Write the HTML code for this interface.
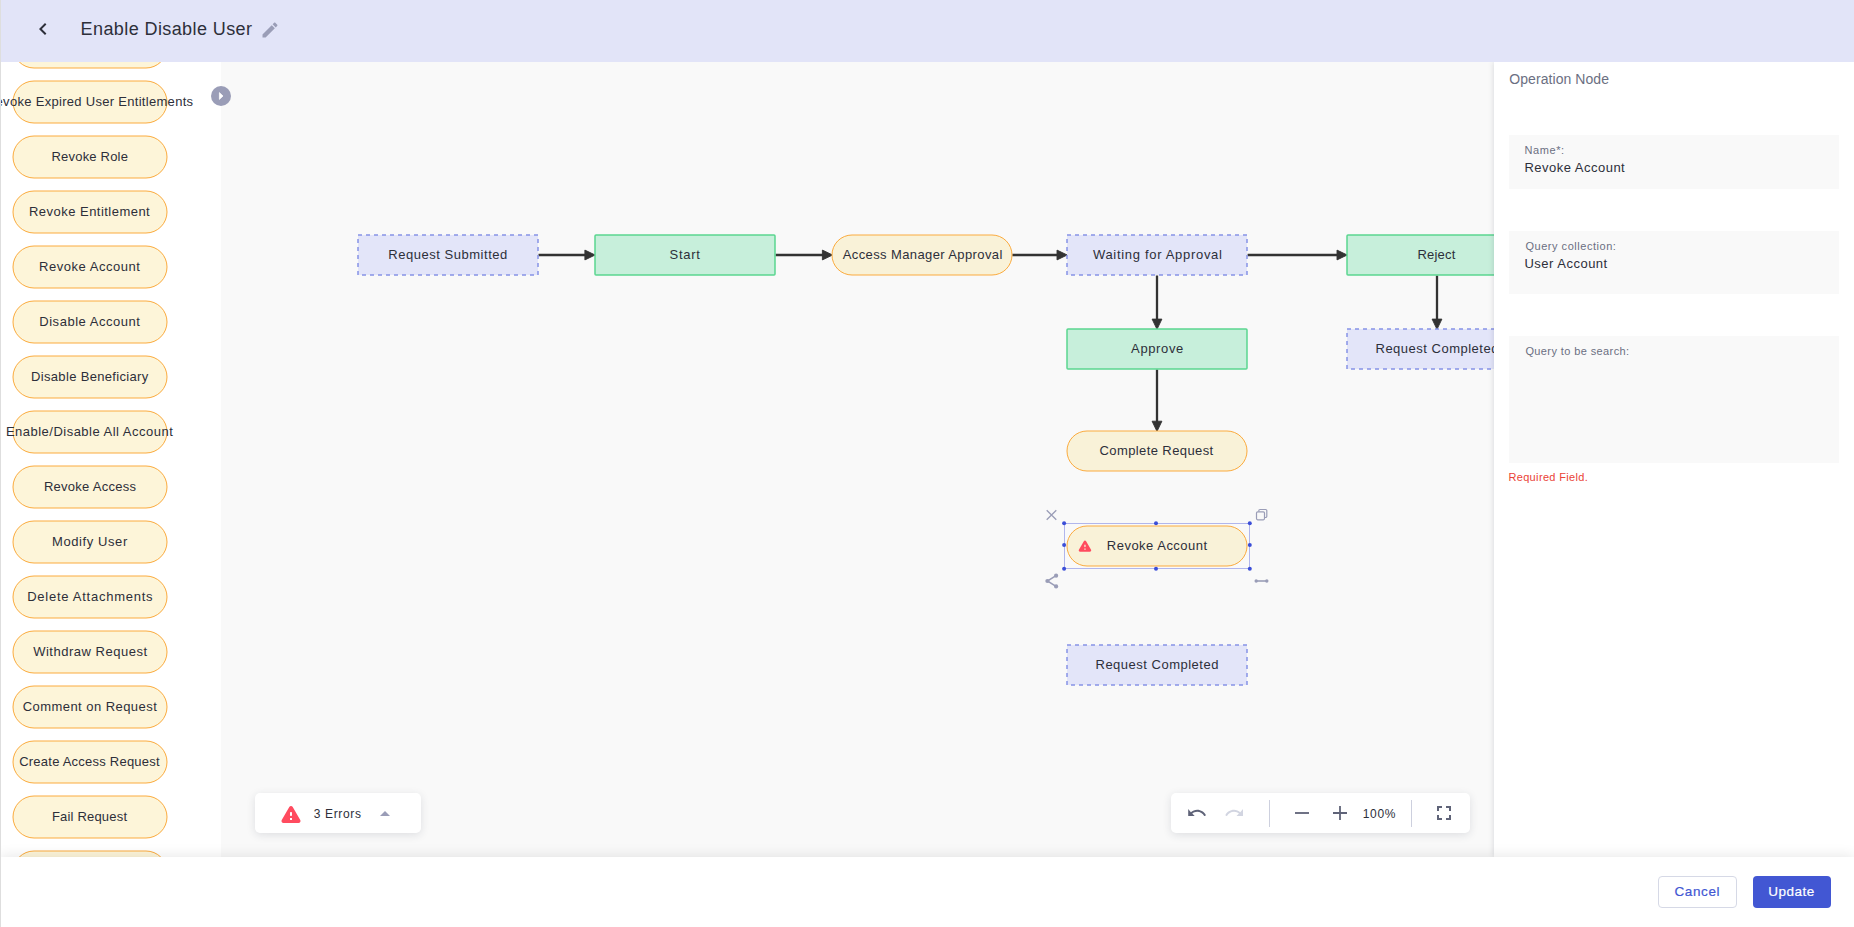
<!DOCTYPE html>
<html lang="en">
<head>
<meta charset="utf-8">
<title>Enable Disable User</title>
<style>

html,body{margin:0;padding:0}
body{width:1854px;height:927px;overflow:hidden;position:relative;background:#fff;font-family:'Liberation Sans', sans-serif;color:#2d2f3a}
*{box-sizing:border-box}
#edge{position:absolute;left:0;top:0;width:1px;height:927px;background:#dedede;z-index:20}
#header{position:absolute;left:0;top:0;width:1854px;height:62px;background:#e2e4f8;z-index:10}
#sidebar{position:absolute;left:0;top:62px;width:221px;height:795px;background:#fff;overflow:hidden;z-index:3}
#sidebar svg{position:absolute;left:0;top:0}
#canvas{position:absolute;left:221px;top:62px;width:1273px;height:795px;background:#f9f9f9;overflow:hidden;z-index:1}
#canvas>svg{position:absolute;left:0;top:0}
#toggle{position:absolute;left:211px;top:86px;width:20px;height:20px;border-radius:50%;background:#9a9db7;z-index:5}
#panel{position:absolute;left:1494px;top:62px;width:360px;height:795px;background:#fff;box-shadow:-1px 0 5px rgba(40,44,70,.13);z-index:4}

.field{position:absolute;left:15px;width:329.5px;background:#f9f9f9}
#footer{position:absolute;left:0;top:857px;width:1854px;height:70px;background:#fff;box-shadow:0 -2px 12px rgba(0,0,0,.085);z-index:8}
.card{position:absolute;background:#fff;border-radius:5px;box-shadow:0 2px 8px rgba(40,44,70,.13)}
.btn{position:absolute;top:19px;height:32px;border-radius:4px;margin:0;padding:0;overflow:visible}

</style>
</head>
<body>
<div id="edge"></div>
<header id="header">
<svg style="position:absolute;left:31px;top:17.3px" width="24" height="24" viewBox="0 0 24 24"><path d="M15.41 7.41L14 6l-6 6 6 6 1.41-1.41L10.83 12z" fill="#2d2f3a"/></svg>
<h1 style="position:absolute;left:80.60px;top:17.00px;font:400 18px/24px 'Liberation Sans', sans-serif;letter-spacing:0.406px;white-space:nowrap;color:#2d2f3a;margin:0;">Enable Disable User</h1>
<svg style="position:absolute;left:260px;top:20.2px" width="20" height="20" viewBox="0 0 24 24"><path d="M3 17.25V21h3.75L17.81 9.94l-3.75-3.75L3 17.25zM20.71 7.04c.39-.39.39-1.02 0-1.41l-2.34-2.34c-.39-.39-1.02-.39-1.41 0l-1.83 1.83 3.75 3.75 1.83-1.83z" fill="#9a9db7"/></svg>
</header>
<nav id="sidebar">
<svg width="221" height="795" viewBox="0 62 221 795">
<rect x="13" y="26" width="154" height="42" rx="21" fill="#fdf5d9" stroke="#fbab3e" stroke-width="1"/>
<rect x="13" y="81" width="154" height="42" rx="21" fill="#fdf5d9" stroke="#fbab3e" stroke-width="1"/>
<rect x="13" y="136" width="154" height="42" rx="21" fill="#fdf5d9" stroke="#fbab3e" stroke-width="1"/>
<rect x="13" y="191" width="154" height="42" rx="21" fill="#fdf5d9" stroke="#fbab3e" stroke-width="1"/>
<rect x="13" y="246" width="154" height="42" rx="21" fill="#fdf5d9" stroke="#fbab3e" stroke-width="1"/>
<rect x="13" y="301" width="154" height="42" rx="21" fill="#fdf5d9" stroke="#fbab3e" stroke-width="1"/>
<rect x="13" y="356" width="154" height="42" rx="21" fill="#fdf5d9" stroke="#fbab3e" stroke-width="1"/>
<rect x="13" y="411" width="154" height="42" rx="21" fill="#fdf5d9" stroke="#fbab3e" stroke-width="1"/>
<rect x="13" y="466" width="154" height="42" rx="21" fill="#fdf5d9" stroke="#fbab3e" stroke-width="1"/>
<rect x="13" y="521" width="154" height="42" rx="21" fill="#fdf5d9" stroke="#fbab3e" stroke-width="1"/>
<rect x="13" y="576" width="154" height="42" rx="21" fill="#fdf5d9" stroke="#fbab3e" stroke-width="1"/>
<rect x="13" y="631" width="154" height="42" rx="21" fill="#fdf5d9" stroke="#fbab3e" stroke-width="1"/>
<rect x="13" y="686" width="154" height="42" rx="21" fill="#fdf5d9" stroke="#fbab3e" stroke-width="1"/>
<rect x="13" y="741" width="154" height="42" rx="21" fill="#fdf5d9" stroke="#fbab3e" stroke-width="1"/>
<rect x="13" y="796" width="154" height="42" rx="21" fill="#fdf5d9" stroke="#fbab3e" stroke-width="1"/>
<rect x="13" y="851" width="154" height="42" rx="21" fill="#fdf5d9" stroke="#fbab3e" stroke-width="1"/>
</svg>
<div style="position:absolute;left:14.00px;top:-25.00px;font:400 13px/19px 'Liberation Sans', sans-serif;letter-spacing:-0.333px;white-space:nowrap;color:#2d2f3a;">Revoke Expired User Roles</div>
<div style="position:absolute;left:-14.10px;top:30.00px;font:400 13px/19px 'Liberation Sans', sans-serif;letter-spacing:0.297px;white-space:nowrap;color:#2d2f3a;">Revoke Expired User Entitlements</div>
<div style="position:absolute;left:51.50px;top:85.00px;font:400 13px/19px 'Liberation Sans', sans-serif;letter-spacing:0.2px;white-space:nowrap;color:#2d2f3a;">Revoke Role</div>
<div style="position:absolute;left:29.00px;top:140.00px;font:400 13px/19px 'Liberation Sans', sans-serif;letter-spacing:0.471px;white-space:nowrap;color:#2d2f3a;">Revoke Entitlement</div>
<div style="position:absolute;left:39.12px;top:195.00px;font:400 13px/19px 'Liberation Sans', sans-serif;letter-spacing:0.519px;white-space:nowrap;color:#2d2f3a;">Revoke Account</div>
<div style="position:absolute;left:39.25px;top:250.00px;font:400 13px/19px 'Liberation Sans', sans-serif;letter-spacing:0.536px;white-space:nowrap;color:#2d2f3a;">Disable Account</div>
<div style="position:absolute;left:31.05px;top:305.00px;font:400 13px/19px 'Liberation Sans', sans-serif;letter-spacing:0.328px;white-space:nowrap;color:#2d2f3a;">Disable Beneficiary</div>
<div style="position:absolute;left:5.88px;top:360.00px;font:400 13px/19px 'Liberation Sans', sans-serif;letter-spacing:0.49px;white-space:nowrap;color:#2d2f3a;">Enable/Disable All Account</div>
<div style="position:absolute;left:43.88px;top:415.00px;font:400 13px/19px 'Liberation Sans', sans-serif;letter-spacing:0.271px;white-space:nowrap;color:#2d2f3a;">Revoke Access</div>
<div style="position:absolute;left:52.10px;top:470.00px;font:400 13px/19px 'Liberation Sans', sans-serif;letter-spacing:0.58px;white-space:nowrap;color:#2d2f3a;">Modify User</div>
<div style="position:absolute;left:27.25px;top:525.00px;font:400 13px/19px 'Liberation Sans', sans-serif;letter-spacing:0.735px;white-space:nowrap;color:#2d2f3a;">Delete Attachments</div>
<div style="position:absolute;left:33.20px;top:580.00px;font:400 13px/19px 'Liberation Sans', sans-serif;letter-spacing:0.507px;white-space:nowrap;color:#2d2f3a;">Withdraw Request</div>
<div style="position:absolute;left:22.70px;top:635.00px;font:400 13px/19px 'Liberation Sans', sans-serif;letter-spacing:0.447px;white-space:nowrap;color:#2d2f3a;">Comment on Request</div>
<div style="position:absolute;left:19.20px;top:690.00px;font:400 13px/19px 'Liberation Sans', sans-serif;letter-spacing:0.23px;white-space:nowrap;color:#2d2f3a;">Create Access Request</div>
<div style="position:absolute;left:51.95px;top:745.00px;font:400 13px/19px 'Liberation Sans', sans-serif;letter-spacing:0.191px;white-space:nowrap;color:#2d2f3a;">Fail Request</div>
<div style="position:absolute;left:35.00px;top:800.00px;font:400 13px/19px 'Liberation Sans', sans-serif;letter-spacing:0.688px;white-space:nowrap;color:#2d2f3a;">Send Notification</div>
</nav>
<div id="toggle"><svg width="20" height="20" viewBox="0 0 20 20"><path d="M8.4 6.6L12 10 8.4 13.4z" fill="#fff" stroke="#fff" stroke-width="0.7" stroke-linejoin="round"/></svg></div>
<main id="canvas">
<svg width="1273" height="795" viewBox="221 62 1273 795">
<path d="M538.5 255H587.10" stroke="#333" stroke-width="2.3" fill="none"/>
<path d="M595.10 255L584.90 250.1V259.9z" fill="#333" stroke="#333" stroke-width="0.9" stroke-linejoin="round"/>
<path d="M775.5 255H824.60" stroke="#333" stroke-width="2.3" fill="none"/>
<path d="M832.60 255L822.40 250.1V259.9z" fill="#333" stroke="#333" stroke-width="0.9" stroke-linejoin="round"/>
<path d="M1012.3 255H1059.20" stroke="#333" stroke-width="2.3" fill="none"/>
<path d="M1067.20 255L1057.00 250.1V259.9z" fill="#333" stroke="#333" stroke-width="0.9" stroke-linejoin="round"/>
<path d="M1247.6 255H1339.20" stroke="#333" stroke-width="2.3" fill="none"/>
<path d="M1347.20 255L1337.00 250.1V259.9z" fill="#333" stroke="#333" stroke-width="0.9" stroke-linejoin="round"/>
<path d="M1157 275.5V321.30" stroke="#333" stroke-width="2.3" fill="none"/>
<path d="M1157 329.30L1152.1 319.10H1161.9z" fill="#333" stroke="#333" stroke-width="0.9" stroke-linejoin="round"/>
<path d="M1437 275.5V321.30" stroke="#333" stroke-width="2.3" fill="none"/>
<path d="M1437 329.30L1432.1 319.10H1441.9z" fill="#333" stroke="#333" stroke-width="0.9" stroke-linejoin="round"/>
<path d="M1157 369.5V423.40" stroke="#333" stroke-width="2.3" fill="none"/>
<path d="M1157 431.40L1152.1 421.20H1161.9z" fill="#333" stroke="#333" stroke-width="0.9" stroke-linejoin="round"/>
<rect x="358" y="235" width="180" height="40" fill="#e3e5f9" stroke="#8793e6" stroke-width="1.5" stroke-dasharray="4 4"/>
<text x="388.25" y="258.75" font-family="'Liberation Sans', sans-serif" font-size="13" letter-spacing="0.531" fill="#2d2f3a">Request Submitted</text>
<rect x="595" y="235" width="180" height="40" rx="1" fill="#c7efdb" stroke="#5bd690" stroke-width="1.5"/>
<text x="669.60" y="258.75" font-family="'Liberation Sans', sans-serif" font-size="13" letter-spacing="0.7" fill="#2d2f3a">Start</text>
<rect x="832" y="235" width="180" height="40" rx="20" fill="#f9f2d8" stroke="#fbab3e" stroke-width="1"/>
<text x="842.75" y="258.75" font-family="'Liberation Sans', sans-serif" font-size="13" letter-spacing="0.386" fill="#2d2f3a">Access Manager Approval</text>
<rect x="1067" y="235" width="180" height="40" fill="#e3e5f9" stroke="#8793e6" stroke-width="1.5" stroke-dasharray="4 4"/>
<text x="1092.95" y="258.75" font-family="'Liberation Sans', sans-serif" font-size="13" letter-spacing="0.689" fill="#2d2f3a">Waiting for Approval</text>
<rect x="1347" y="235" width="180" height="40" rx="1" fill="#c7efdb" stroke="#5bd690" stroke-width="1.5"/>
<text x="1417.45" y="258.75" font-family="'Liberation Sans', sans-serif" font-size="13" letter-spacing="0.22" fill="#2d2f3a">Reject</text>
<rect x="1067" y="329" width="180" height="40" rx="1" fill="#c7efdb" stroke="#5bd690" stroke-width="1.5"/>
<text x="1131.12" y="352.75" font-family="'Liberation Sans', sans-serif" font-size="13" letter-spacing="0.625" fill="#2d2f3a">Approve</text>
<rect x="1347" y="329" width="180" height="40" fill="#e3e5f9" stroke="#8793e6" stroke-width="1.5" stroke-dasharray="4 4"/>
<text x="1375.50" y="352.75" font-family="'Liberation Sans', sans-serif" font-size="13" letter-spacing="0.5" fill="#2d2f3a">Request Completed</text>
<rect x="1067" y="431" width="180" height="40" rx="20" fill="#f9f2d8" stroke="#fbab3e" stroke-width="1"/>
<text x="1099.50" y="454.75" font-family="'Liberation Sans', sans-serif" font-size="13" letter-spacing="0.4" fill="#2d2f3a">Complete Request</text>
<rect x="1067" y="526" width="180" height="40" rx="20" fill="#f9f2d8" stroke="#fbab3e" stroke-width="1"/>
<text x="1106.80" y="549.75" font-family="'Liberation Sans', sans-serif" font-size="13" letter-spacing="0.492" fill="#2d2f3a">Revoke Account</text>
<rect x="1067" y="645" width="180" height="40" fill="#e3e5f9" stroke="#8793e6" stroke-width="1.5" stroke-dasharray="4 4"/>
<text x="1095.50" y="668.75" font-family="'Liberation Sans', sans-serif" font-size="13" letter-spacing="0.5" fill="#2d2f3a">Request Completed</text>
<rect x="1064.5" y="523.5" width="185" height="45" fill="none" stroke="#b1b6ec" stroke-width="1"/>
<circle cx="1064.1" cy="523.2" r="2" fill="#3b4ed8"/>
<circle cx="1064.1" cy="544.9" r="2" fill="#3b4ed8"/>
<circle cx="1064.1" cy="568.8" r="2" fill="#3b4ed8"/>
<circle cx="1156" cy="523.2" r="2" fill="#3b4ed8"/>
<circle cx="1156" cy="568.8" r="2" fill="#3b4ed8"/>
<circle cx="1249.8" cy="523.2" r="2" fill="#3b4ed8"/>
<circle cx="1249.8" cy="544.9" r="2" fill="#3b4ed8"/>
<circle cx="1249.8" cy="568.8" r="2" fill="#3b4ed8"/>
<g transform="translate(1077.1 538) scale(.656)"><path d="M4.47 21h15.06c1.54 0 2.5-1.67 1.73-3L13.73 4.99c-.77-1.33-2.69-1.33-3.46 0L2.74 18c-.77 1.33.19 3 1.73 3zM12 14c-.55 0-1-.45-1-1v-2c0-.55.45-1 1-1s1 .45 1 1v2c0 .55-.45 1-1 1zm1 4h-2v-2h2v2z" fill="#ff4b5f" fill-rule="evenodd"/></g>
<path d="M1046.7 510.2l9.6 9.6M1056.3 510.2l-9.6 9.6" stroke="#9a9db7" stroke-width="1.3" fill="none"/>
<rect x="1256.5" y="511.8" width="8" height="8" rx="1.2" fill="none" stroke="#9a9db7" stroke-width="1.2"/><path d="M1258.8 511.6v-0.9a1.2 1.2 0 0 1 1.2-1.2h5.6a1.2 1.2 0 0 1 1.2 1.2v5.6a1.2 1.2 0 0 1-1.2 1.2h-0.9" fill="none" stroke="#9a9db7" stroke-width="1.2"/>
<path d="M1056 575.6L1047.4 581 1056 586.4" fill="none" stroke="#9a9db7" stroke-width="1.5"/><circle cx="1056.1" cy="575.7" r="2.1" fill="#9a9db7"/><circle cx="1047.4" cy="581" r="2.1" fill="#9a9db7"/><circle cx="1056.1" cy="586.4" r="2.1" fill="#9a9db7"/>
<path d="M1256 581H1267" stroke="#9a9db7" stroke-width="1.6"/><circle cx="1256.2" cy="581" r="1.7" fill="#9a9db7"/><circle cx="1266.8" cy="581" r="1.7" fill="#9a9db7"/>
</svg>
<div class="card" style="left:34px;top:731px;width:166px;height:40px">
<svg style="position:absolute;left:24px;top:8.6px" width="24" height="24" viewBox="0 0 24 24"><path d="M4.47 21h15.06c1.54 0 2.5-1.67 1.73-3L13.73 4.99c-.77-1.33-2.69-1.33-3.46 0L2.74 18c-.77 1.33.19 3 1.73 3zM12 14c-.55 0-1-.45-1-1v-2c0-.55.45-1 1-1s1 .45 1 1v2c0 .55-.45 1-1 1zm1 4h-2v-2h2v2z" fill="#ff4b5f" fill-rule="evenodd"/></svg>
<div style="position:absolute;left:58.75px;top:12.00px;font:400 12px/18px 'Liberation Sans', sans-serif;letter-spacing:0.643px;white-space:nowrap;color:#2d2f3a;">3 Errors</div>
<svg style="position:absolute;left:117.75px;top:9px" width="24" height="24" viewBox="0 0 24 24"><path d="M7 14l5-5 5 5z" fill="#9a9db7"/></svg>
</div>
<div class="card" style="left:950px;top:731px;width:299px;height:40px">
<svg style="position:absolute;left:16.9px;top:15.9px" width="18.2" height="7.3" viewBox="0 0 18.3 7.3" preserveAspectRatio="none"><path d="M0.2 0v7.2h6.7L4.3 4.6C5.6 3.4 7.3 2.7 9.2 2.7c3.2 0 5.9 1.9 7.2 4.5l1.7-.9C16.5 3.1 13.1 .8 9.2 .8 6.8 .8 4.6 1.7 2.9 3.2z" fill="#5f6378"/></svg>
<svg style="position:absolute;left:53.9px;top:15.9px;transform:scaleX(-1)" width="18.2" height="7.3" viewBox="0 0 18.3 7.3" preserveAspectRatio="none"><path d="M0.2 0v7.2h6.7L4.3 4.6C5.6 3.4 7.3 2.7 9.2 2.7c3.2 0 5.9 1.9 7.2 4.5l1.7-.9C16.5 3.1 13.1 .8 9.2 .8 6.8 .8 4.6 1.7 2.9 3.2z" fill="#d2d5e1"/></svg>
<div style="position:absolute;left:98px;top:7px;width:1px;height:27px;background:#cdd0de"></div>
<svg style="position:absolute;left:119px;top:8px" width="24" height="24" viewBox="0 0 24 24"><path d="M19 12.9H5v-1.8h14z" fill="#5f6378"/></svg>
<svg style="position:absolute;left:157px;top:8px" width="24" height="24" viewBox="0 0 24 24"><path d="M19 12.9h-6.1V19h-1.8v-6.1H5v-1.8h6.1V5h1.8v6.1H19z" fill="#5f6378"/></svg>
<div style="position:absolute;left:191.80px;top:12.00px;font:400 12px/18px 'Liberation Sans', sans-serif;letter-spacing:0.633px;white-space:nowrap;color:#2d2f3a;">100%</div>
<div style="position:absolute;left:240px;top:7px;width:1px;height:27px;background:#cdd0de"></div>
<svg style="position:absolute;left:261px;top:8px" width="24" height="24" viewBox="0 0 24 24"><path d="M7 14H5v5h5v-2H7v-3zm-2-4h2V7h3V5H5v5zm12 7h-3v2h5v-5h-2v3zM14 5v2h3v3h2V5h-5z" fill="#5f6378"/></svg>
</div>
</main>
<aside id="panel">
<h2 style="position:absolute;left:15.25px;top:7.00px;font:400 14px/20px 'Liberation Sans', sans-serif;letter-spacing:0.069px;white-space:nowrap;color:#6b6f82;margin:0;">Operation Node</h2>
<div class="field" style="top:73px;height:54px">
<label style="position:absolute;left:15.40px;top:7.00px;font:400 11px/16px 'Liberation Sans', sans-serif;letter-spacing:0.62px;white-space:nowrap;color:#6b6f82;">Name*:</label>
<div style="position:absolute;left:15.40px;top:23.00px;font:400 13px/19px 'Liberation Sans', sans-serif;letter-spacing:0.492px;white-space:nowrap;color:#2d2f3a;">Revoke Account</div>
</div>
<div class="field" style="top:169px;height:63px">
<label style="position:absolute;left:16.40px;top:7.00px;font:400 11px/16px 'Liberation Sans', sans-serif;letter-spacing:0.537px;white-space:nowrap;color:#6b6f82;">Query collection:</label>
<div style="position:absolute;left:15.40px;top:23.00px;font:400 13px/19px 'Liberation Sans', sans-serif;letter-spacing:0.5px;white-space:nowrap;color:#2d2f3a;">User Account</div>
</div>
<div class="field" style="top:274px;height:127px">
<label style="position:absolute;left:16.40px;top:7.00px;font:400 11px/16px 'Liberation Sans', sans-serif;letter-spacing:0.394px;white-space:nowrap;color:#6b6f82;">Query to be search:</label>
</div>
<div style="position:absolute;left:14.40px;top:407.00px;font:400 11px/16px 'Liberation Sans', sans-serif;letter-spacing:0.35px;white-space:nowrap;color:#ea4236;">Required Field.</div>
</aside>
<footer id="footer">
<button type="button" class="btn" style="left:1658px;width:79px;background:#fff;border:1px solid #d6d9e6">
<span style="position:absolute;left:15.50px;top:5.00px;font:400 13.5px/19px 'Liberation Sans', sans-serif;letter-spacing:0.6px;white-space:nowrap;color:#4257d3;-webkit-text-stroke:.2px #4257d3;">Cancel</span>
</button>
<button type="button" class="btn" style="left:1753px;width:78px;background:#4257d3;border:0">
<span style="position:absolute;left:15.25px;top:6.00px;font:400 13.5px/19px 'Liberation Sans', sans-serif;letter-spacing:0.5px;white-space:nowrap;color:#fff;-webkit-text-stroke:.2px #fff;">Update</span>
</button>
</footer>
</body>
</html>
